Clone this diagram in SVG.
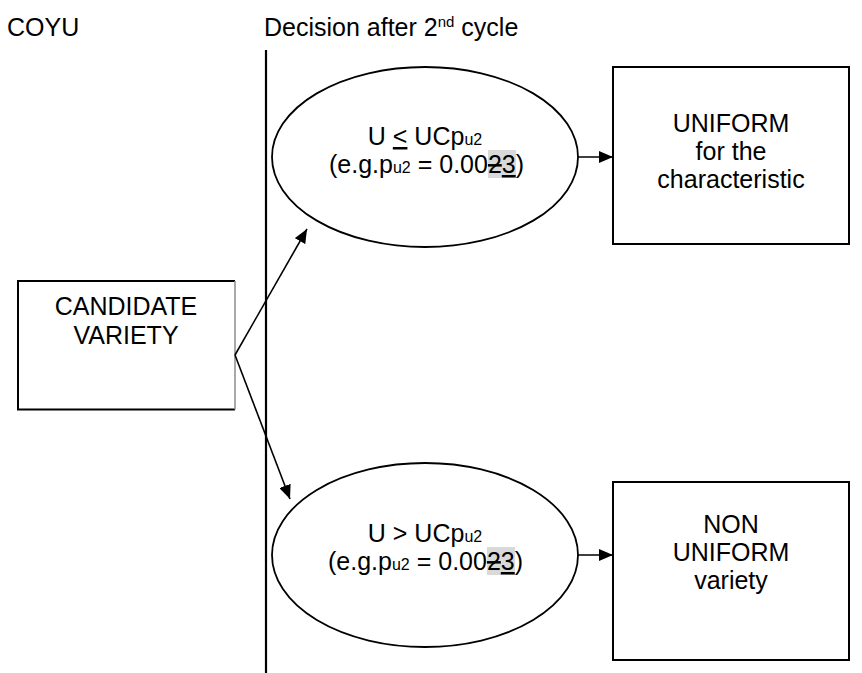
<svg xmlns="http://www.w3.org/2000/svg" width="862" height="673" viewBox="0 0 862 673">
<style>
text{font-family:"Liberation Sans",Arial,sans-serif;font-size:25px;fill:#000}
.c{text-anchor:middle}
.sub{font-size:16px}
.sup{font-size:15px}
.box{fill:#fff;stroke:#000;stroke-width:2}
.ell{fill:#fff;stroke:#000;stroke-width:1.8}
.con{stroke:#000;stroke-width:1.6;fill:none}
.hl{fill:#d9d9d9}
.u{text-decoration:underline}
.s{text-decoration:line-through}
</style>
<defs>
<marker id="ah" viewBox="0 0 14 12" refX="14" refY="6" markerWidth="14" markerHeight="12" markerUnits="userSpaceOnUse" orient="auto">
<path d="M0,0 L14,6 L0,12 Z" fill="#000"/>
</marker>
</defs>
<rect width="862" height="673" fill="#fff"/>
<g id="header">
<text x="7" y="36">COYU</text>
<text x="264" y="36">Decision after 2<tspan class="sup" dy="-9">nd</tspan><tspan dy="9"> cycle</tspan></text>
</g>
<g id="divider">
<line x1="266" y1="50" x2="266" y2="673" stroke="#000" stroke-width="2.2"/>
</g>
<g id="candidate">
<path d="M235,281 L18,281 L18,409.5 L235,409.5" class="box" fill="#fff"/>
<line x1="235" y1="281" x2="235" y2="409.5" stroke="#8c8c8c" stroke-width="1.5"/>
<text class="c" x="126" y="315">CANDIDATE</text>
<text class="c" x="126" y="344">VARIETY</text>
</g>
<g id="cond-uniform">
<ellipse class="ell" cx="425" cy="157" rx="153" ry="90"/>
<text class="c" x="425" y="145">U <tspan class="u">&lt;</tspan> UCp<tspan class="sub">u2</tspan></text>
<rect class="hl" x="488" y="150" width="28" height="28"/>
<text x="329" y="173">(e.g.p<tspan class="sub">u2</tspan> = 0.00<tspan class="s">2</tspan><tspan class="u">3</tspan>)</text>
</g>
<g id="cond-nonuniform">
<ellipse class="ell" cx="425" cy="555" rx="153" ry="92"/>
<text class="c" x="425" y="542">U &gt; UCp<tspan class="sub">u2</tspan></text>
<rect class="hl" x="487" y="547" width="28" height="28"/>
<text x="328" y="570">(e.g.p<tspan class="sub">u2</tspan> = 0.00<tspan class="s">2</tspan><tspan class="u">3</tspan>)</text>
</g>
<g id="uniform">
<rect class="box" x="613" y="67" width="236" height="177"/>
<text class="c" x="731" y="132">UNIFORM</text>
<text class="c" x="731" y="160">for the</text>
<text class="c" x="731" y="188">characteristic</text>
</g>
<g id="nonuniform">
<rect class="box" x="613" y="482" width="236" height="178"/>
<text class="c" x="731" y="533">NON</text>
<text class="c" x="731" y="561">UNIFORM</text>
<text class="c" x="731" y="589">variety</text>
</g>
<g id="connectors">
<line class="con" x1="235" y1="355" x2="307" y2="229" marker-end="url(#ah)"/>
<line class="con" x1="235" y1="355" x2="290" y2="499" marker-end="url(#ah)"/>
<line class="con" x1="578" y1="157" x2="613" y2="157" marker-end="url(#ah)"/>
<line class="con" x1="578" y1="555" x2="613" y2="555" marker-end="url(#ah)"/>
</g>
</svg>
